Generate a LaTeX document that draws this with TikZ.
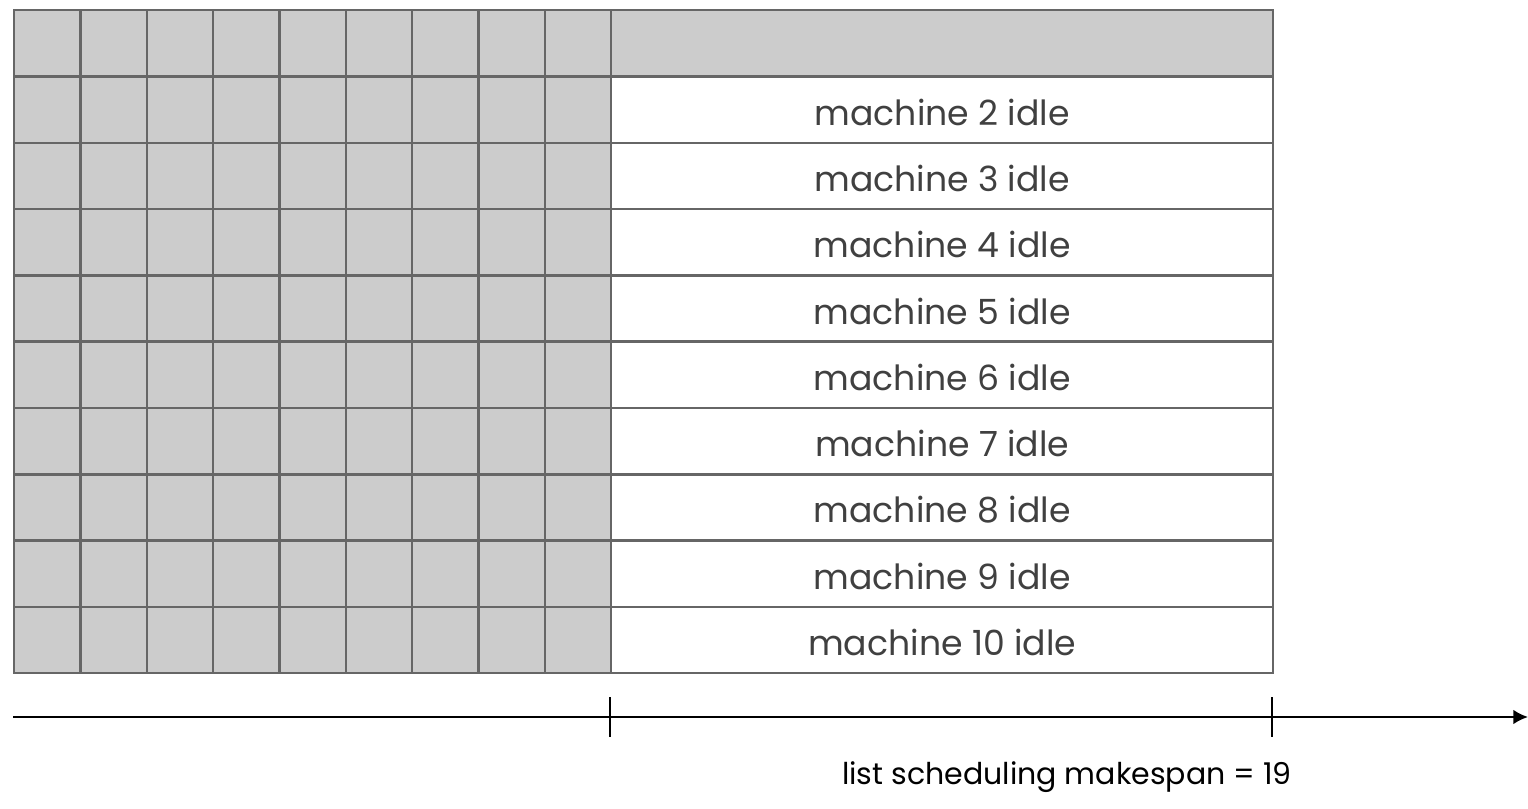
\documentclass[tikz,border=0pt]{standalone}
\usepackage{fontspec}
\setmainfont{Poppins}
\usetikzlibrary{arrows.meta}
\definecolor{cellGray}{HTML}{CCCCCC}
\definecolor{lineGray}{HTML}{666666}
\definecolor{labelGray}{HTML}{404040}
\begin{document}
\begin{tikzpicture}[x=0.75pt,y=-0.75pt,
  cellbox/.style={draw=lineGray, line width=1.8pt, inner sep=0pt, anchor=north west},
  busy/.style={cellbox, fill=cellGray, minimum width=49.75pt, minimum height=49.73pt},
  tail/.style={cellbox, minimum width=496.5pt, minimum height=49.73pt},
  idlelabel/.style={text=labelGray, font=\fontsize{26}{30}\selectfont},
  caption/.style={text=black, font=\fontsize{22.5}{27}\selectfont},
  axis/.style={line width=1.6pt, -{Latex[length=11pt,width=11pt]}},
  tick/.style={line width=1.6pt}]
\useasboundingbox (0,0) rectangle (1528,809);
% busy cells of the schedule (10 machines x 9 time units)
\foreach \r in {0,...,9} {
  \foreach \c in {0,...,8} {
    \node[busy] (c-\r-\c) at ({13+\c*66.333},{9+\r*66.3}) {};
  }
}
% remaining time on each machine
\node[tail, fill=cellGray] (m1) at (610,9) {};
\foreach \r in {2,...,10} {
  \node[tail, fill=white] (m\r) at (610,{9+(\r-1)*66.3}) {};
  \node[idlelabel] (l\r) at ([yshift=-2pt]m\r.center) {machine \r\ idle};
}
% time axis
\coordinate (a0) at (13,717);
\coordinate (a1) at (1528,717);
\coordinate (k1) at (610,717);
\coordinate (k2) at (1272,717);
\draw[axis] (a0) -- (a1);
\draw[tick] ([yshift=15pt]k1) -- ([yshift=-15pt]k1);
\draw[tick] ([yshift=15pt]k2) -- ([yshift=-15pt]k2);
\node[caption] (cap) at (1067,777) {list scheduling makespan = 19};
\end{tikzpicture}
\end{document}
